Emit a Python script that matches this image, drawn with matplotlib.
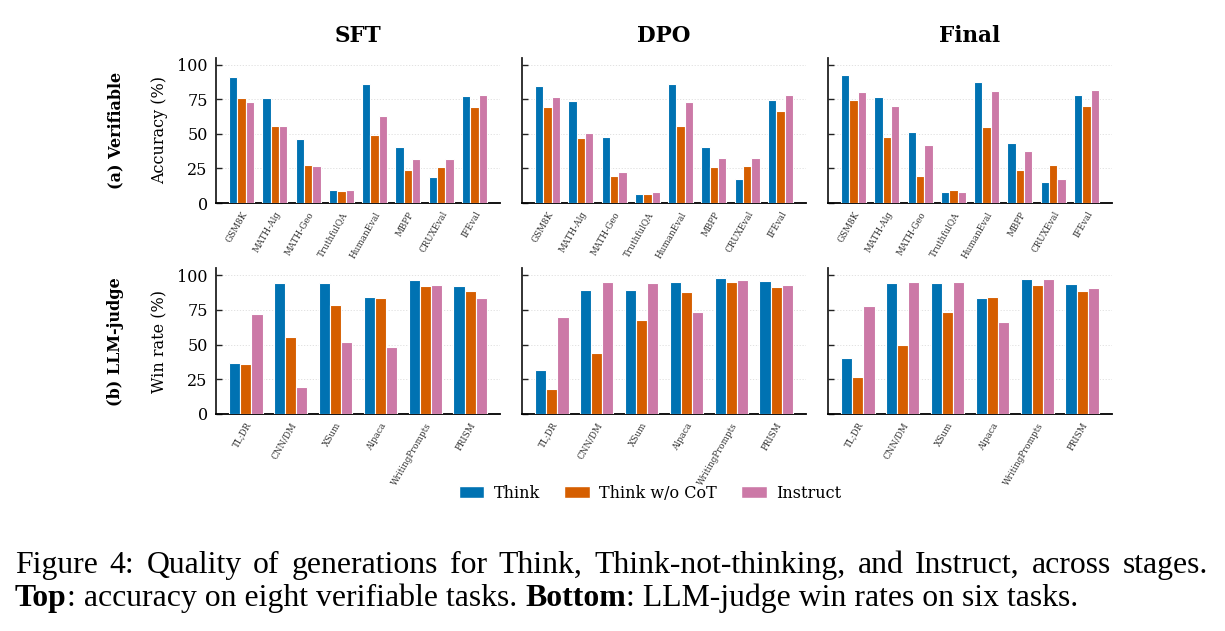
import matplotlib
matplotlib.use("Agg")
import matplotlib.pyplot as plt
import numpy as np
from matplotlib.patches import Patch

plt.rcParams['font.family'] = ['DejaVu Serif']

stages = ["SFT", "DPO", "Final"]
series = ["Think", "Think w/o CoT", "Instruct"]
colors = ["#0072B2", "#D55E00", "#CC79A7"]

verif_tasks = ["GSM8K", "MATH-Alg", "MATH-Geo", "TruthfulQA", "HumanEval", "MBPP", "CRUXEval", "IFEval"]
judge_tasks = ["TL;DR", "CNN/DM", "XSum", "Alpaca", "WritingPrompts", "PRISM"]

# Verifiable accuracy (%), per stage: [Think, Think w/o CoT, Instruct]
sft_think    = [91.1, 75.8, 46.3, 9.6, 86.1, 40.5, 18.9, 77.2]
sft_nocot    = [76.0, 55.6, 27.1, 8.4, 48.9, 23.7, 26.1, 69.5]
sft_instruct = [72.9, 55.6, 26.4, 9.1, 63.1, 32.1, 32.1, 78.2]

dpo_think    = [84.7, 73.9, 48.0, 6.7, 86.1, 40.3, 17.0, 74.3]
dpo_nocot    = [69.3, 47.0, 19.2, 6.7, 55.9, 25.9, 26.9, 66.2]
dpo_instruct = [76.5, 50.6, 22.5, 7.9, 72.7, 32.6, 32.6, 78.2]

fin_think    = [92.6, 76.3, 51.3, 8.2, 87.3, 43.6, 15.3, 78.2]
fin_nocot    = [74.1, 48.0, 19.2, 9.1, 55.2, 23.5, 27.3, 70.3]
fin_instruct = [79.9, 70.3, 42.2, 7.7, 80.8, 37.4, 17.7, 81.5]

# LLM-judge win rate (%)
sft_win_think    = [36.4, 94.2, 94.2, 84.1, 96.4, 92.3]
sft_win_nocot    = [36.1, 55.4, 78.3, 83.4, 92.0, 88.4]
sft_win_instruct = [71.8, 19.5, 51.6, 48.4, 92.8, 83.9]

dpo_win_think    = [32.0, 89.4, 89.2, 94.9, 97.8, 95.7]
dpo_win_nocot    = [18.1, 44.3, 67.5, 87.7, 95.2, 91.8]
dpo_win_instruct = [70.1, 95.2, 94.2, 73.5, 96.9, 92.8]

fin_win_think    = [40.5, 94.2, 94.2, 83.6, 97.1, 93.5]
fin_win_nocot    = [26.7, 49.4, 73.7, 84.3, 93.0, 88.4]
fin_win_instruct = [77.6, 95.2, 95.2, 66.0, 97.1, 90.8]

verif_data = [[sft_think, sft_nocot, sft_instruct],
              [dpo_think, dpo_nocot, dpo_instruct],
              [fin_think, fin_nocot, fin_instruct]]
judge_data = [[sft_win_think, sft_win_nocot, sft_win_instruct],
              [dpo_win_think, dpo_win_nocot, dpo_win_instruct],
              [fin_win_think, fin_win_nocot, fin_win_instruct]]

yticks = [0, 25, 50, 75, 100]

caption_line1 = "Figure 4: Quality of generations for Think, Think-not-thinking, and Instruct, across stages."
caption_line2 = [("Top", "bold"), (": accuracy on eight verifiable tasks. ", "normal"),
                 ("Bottom", "bold"), (": LLM-judge win rates on six tasks.", "normal")]

W, H = 1225, 631
fig = plt.figure(figsize=(W / 100, H / 100), dpi=100)

lefts = [216, 522, 828]
axw = 284
rows = [(57.7, 203.0), (268.3, 414.0)]


def make_ax(col, row):
    top, bot = rows[row]
    return fig.add_axes([lefts[col] / W, 1 - bot / H, axw / W, (bot - top) / H])


def draw(ax, tasks, data, first):
    x = np.arange(len(tasks))
    bw = 0.25
    for i, (vals, c) in enumerate(zip(data, colors)):
        ax.bar(x + (i - 1) * bw, vals, bw, color=c, edgecolor="white",
               linewidth=0.8, zorder=3)
    ax.set_ylim(0, 105)
    ax.set_yticks(yticks)
    ax.set_xticks(x)
    ax.set_xticklabels(tasks, rotation=60, ha="right", rotation_mode="anchor",
                       fontsize=6.3, color="#333333")
    ax.tick_params(axis="x", length=0, pad=5)
    ax.tick_params(axis="y", direction="in", length=4, width=1.0,
                   labelsize=11.5, pad=6, color="#222222")
    if not first:
        ax.tick_params(axis="y", labelleft=False)
    for s in ["top", "right"]:
        ax.spines[s].set_visible(False)
    ax.spines["left"].set_color("#222222")
    ax.spines["left"].set_linewidth(1.3)
    ax.spines["bottom"].set_color("black")
    ax.spines["bottom"].set_linewidth(1.3)
    ax.set_axisbelow(True)
    ax.yaxis.grid(True, color="#dddddd", linestyle=(0, (1.5, 2)), linewidth=0.6)


for c in range(3):
    ax = make_ax(c, 0)
    draw(ax, verif_tasks, verif_data[c], c == 0)
    ax2 = make_ax(c, 1)
    draw(ax2, judge_tasks, judge_data[c], c == 0)
    fig.text((lefts[c] + axw / 2) / W, 1 - 36.5 / H, stages[c], ha="center",
             va="center", fontsize=15.5, fontweight="bold")

for row, (ylab, rlab) in enumerate([("Accuracy (%)", "(a) Verifiable"),
                                    ("Win rate (%)", "(b) LLM-judge")]):
    top, bot = rows[row]
    yc = 1 - (top + bot) / 2 / H
    fig.text(160 / W, yc, ylab, rotation=90, ha="center", va="center", fontsize=11.5)
    fig.text(116 / W, yc, rlab, rotation=90, ha="center", va="center",
             fontsize=11.5, fontweight="bold")

handles = [Patch(facecolor=c, edgecolor="white", label=s) for c, s in zip(colors, series)]
fig.legend(handles=handles, loc="center", bbox_to_anchor=(650 / W, 1 - 493 / H),
           ncol=3, frameon=False, fontsize=11.5, handlelength=1.6,
           handleheight=0.85, handletextpad=0.6, columnspacing=1.5)

# Caption: line 1 justified across the full width, line 2 left-aligned
renderer = fig.canvas.get_renderer()
cap_font = "Liberation Serif"
x0, x1_end = 15, 1208
natural1 = 1150
y1, y2 = 1 - 573 / H, 1 - 606 / H

fs = 20.0
probe = fig.text(0, 0, caption_line1, fontsize=fs, family=cap_font)
fs = fs * natural1 / probe.get_window_extent(renderer).width
probe.remove()

xpx = x0
for txt, wt in caption_line2:
    t = fig.text(xpx / W, y2, txt, ha="left", va="baseline", fontsize=fs,
                 fontweight=wt, family=cap_font)
    xpx += t.get_window_extent(renderer).width

words = caption_line1.split(" ")
wtexts = [fig.text(0, y1, w, ha="left", va="baseline", fontsize=fs, family=cap_font)
          for w in words]
widths = [t.get_window_extent(renderer).width for t in wtexts]
gap = (x1_end - x0 - sum(widths)) / (len(words) - 1)
xpx = x0
for t, w in zip(wtexts, widths):
    t.set_x(xpx / W)
    xpx += w + gap

fig.savefig("out.png", dpi=100)
